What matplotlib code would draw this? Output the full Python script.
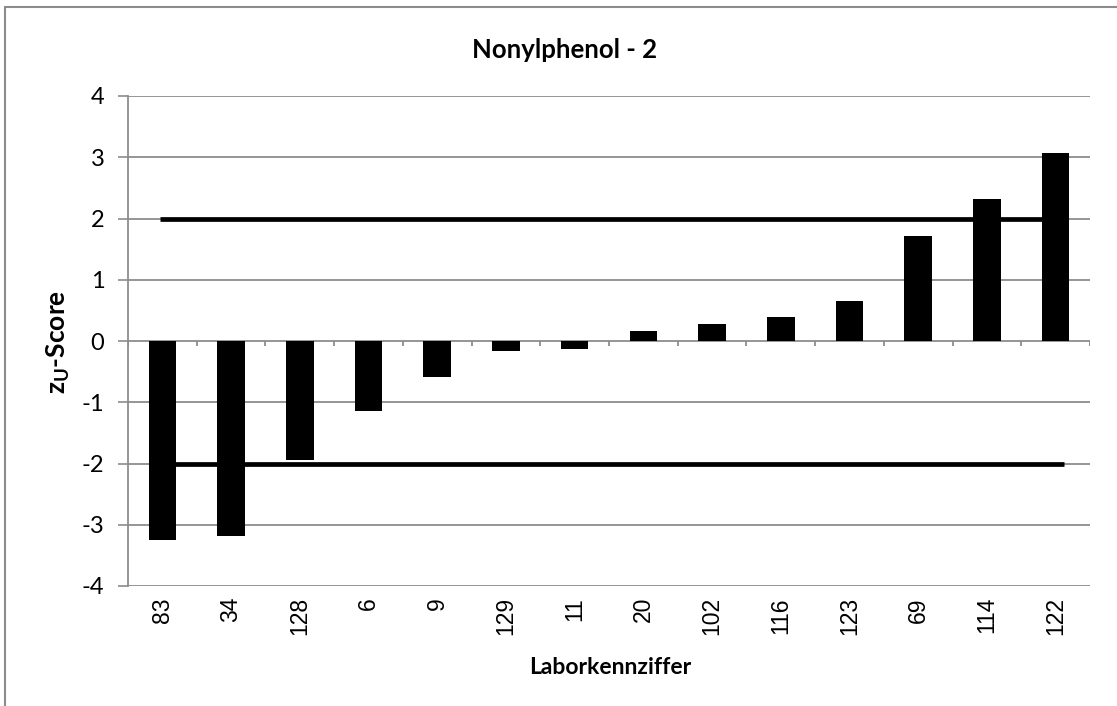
import matplotlib
matplotlib.use("Agg")
import matplotlib.pyplot as plt
from matplotlib.patches import Rectangle

labs = ["83", "34", "128", "6", "9", "129", "11", "20", "102", "116", "123", "69", "114", "122"]
zscores = [-3.25, -3.19, -1.95, -1.14, -0.59, -0.17, -0.13, 0.16, 0.27, 0.40, 0.65, 1.72, 2.32, 3.07]
limit_upper = 2
limit_lower = -2
title = "Nonylphenol - 2"
xlabel = "Laborkennziffer"

FONT = "Lato"
plt.rcParams['mathtext.fontset'] = 'custom'
plt.rcParams['mathtext.rm'] = FONT + ':bold'

W, H = 1117, 706
fig = plt.figure(figsize=(W / 100, H / 100), dpi=100)
ax = fig.add_axes([128 / W, 1 - 586 / H, (1090 - 128) / W, (586 - 96) / H])

grid_c = "#8c8c8c"
x = list(range(len(labs)))

ax.set_xlim(-0.5, len(labs) - 0.5)
ax.set_ylim(-4, 4)
ax.set_yticks(range(-4, 5))
ax.set_yticklabels([str(v) for v in range(-4, 5)], fontsize=17, family=FONT)
ax.tick_params(axis="y", length=7, width=1.2, color=grid_c, pad=10)
for v in range(-4, 5):
    ax.axhline(v, color=grid_c, lw=1.3, zorder=1)

ax.set_xticks(x)
ax.set_xticklabels(labs, rotation=90, fontsize=16.5, family="Liberation Sans")
ax.tick_params(axis="x", length=0, pad=8)

# category boundary ticks on zero line
bounds = [i - 0.5 for i in range(len(labs) + 1)]
ax.vlines(bounds, 0, -0.085, color=grid_c, lw=1.3, zorder=1)

for s in ["top", "right", "bottom"]:
    ax.spines[s].set_visible(False)
ax.spines["left"].set_color(grid_c)
ax.spines["left"].set_linewidth(1.3)

ax.plot([-0.03, len(labs) - 1 + 0.12], [limit_upper, limit_upper], color="black", lw=3.4, zorder=2, solid_capstyle="butt")
ax.plot([-0.03, len(labs) - 1 + 0.12], [limit_lower, limit_lower], color="black", lw=3.4, zorder=2, solid_capstyle="butt")

ax.bar(x, zscores, width=0.4, color="black", zorder=3)

fig.text(565 / W, 1 - 50 / H, title, ha="center", va="center", fontsize=18.5, fontweight="bold", family=FONT)
fig.text(610 / W, 1 - 667 / H, xlabel, ha="center", va="center", fontsize=16.5, fontweight="bold", family=FONT)
fig.text(58 / W, 1 - 342 / H, r"z$_\mathrm{U}$-Score", ha="center", va="center", rotation=90, fontsize=19, fontweight="bold", family=FONT)

fig.patches.append(Rectangle((5 / W, -0.1), 1.2, (1 - 7 / H) + 0.1, transform=fig.transFigure,
                             fill=False, edgecolor=grid_c, lw=1.5, zorder=0))

fig.savefig("out.png", dpi=100)
